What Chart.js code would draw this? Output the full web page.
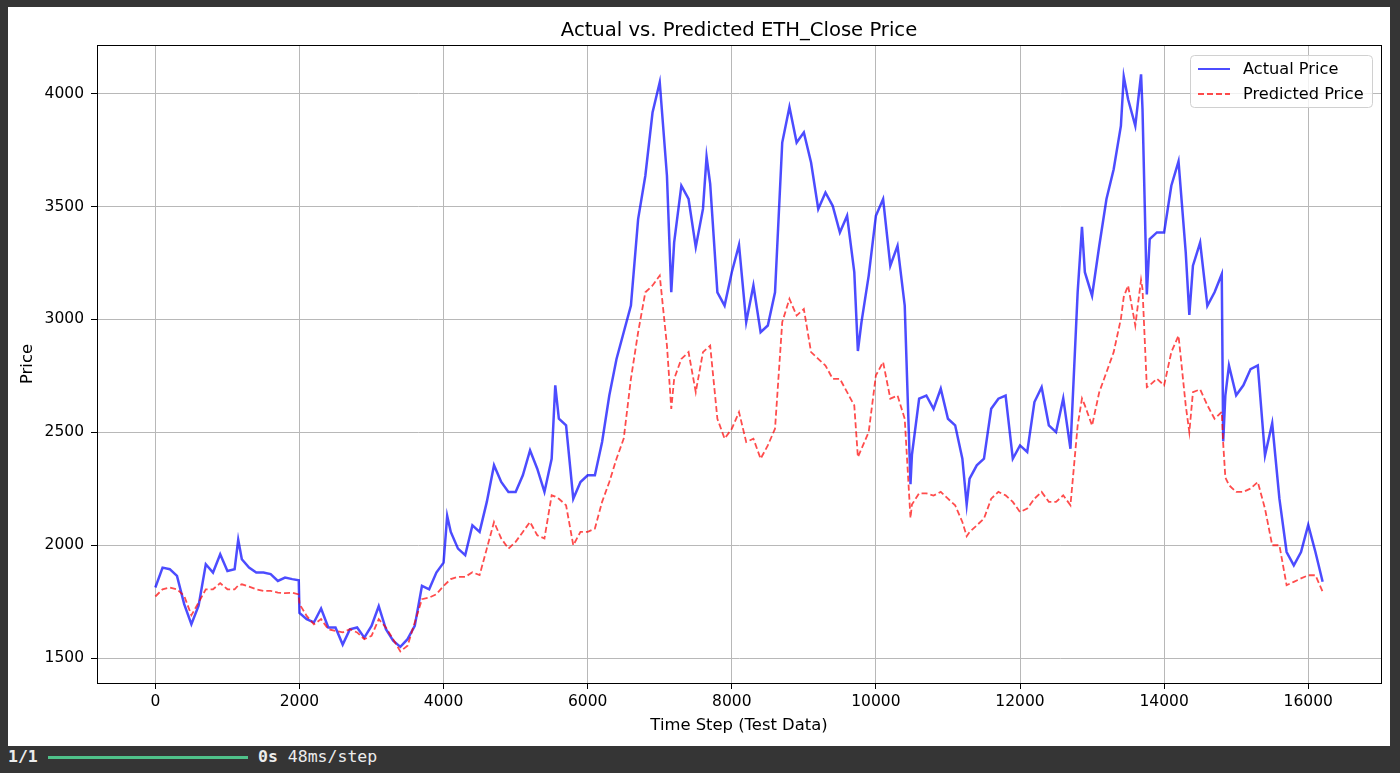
<!DOCTYPE html>
<html>
<head>
<meta charset="utf-8">
<script src="https://cdn.jsdelivr.net/npm/chart.js@4.4.1/dist/chart.umd.min.js"></script>
<style>
  body { margin: 0; width: 1400px; height: 773px; background: #353535; overflow: hidden; position: relative; }
  #panel { position: absolute; left: 8px; top: 7px; width: 1382px; height: 739px; background: #fff; }
  #bar { position: absolute; left: 8px; top: 746px; height: 24px; width: 1380px; font-family: "DejaVu Sans Mono", monospace; font-size: 16.5px; line-height: 22px; color: #ececec; white-space: pre; }
  #bar b { font-weight: bold; }
  #prog { position: absolute; left: 40px; top: 9.5px; width: 200px; height: 3px; background: #4fc28a; }
  #bar .rest { position: absolute; left: 250px; top: 0; }
</style>
</head>
<body>
<div id="panel"><canvas id="myChart" width="1382" height="739"></canvas></div>
<div id="bar"><b>1/1</b><span id="prog"></span><span class="rest"><b>0s</b> 48ms/step</span></div>
<script>
// time steps (test data)
var steps = [0,100,200,300,400,500,600,700,800,900,1000,1100,1150,1200,1300,1400,1500,1600,1700,1800,1900,1990,2000,
  2100,2200,2300,2400,2500,2600,2700,2800,2900,3000,3100,3200,3300,3400,3500,3600,3700,3800,3900,4000,4050,
  4100,4200,4300,4400,4500,4600,4700,4800,4900,5000,5100,5200,5300,5400,5500,5550,5600,5700,5800,5900,6000,
  6100,6200,6300,6400,6500,6600,6700,6800,6900,7000,7100,7160,7200,7300,7400,7500,7600,7650,7700,7800,7900,
  8000,8100,8200,8300,8400,8500,8600,8700,8800,8900,9000,9100,9200,9300,9400,9500,9600,9700,9750,9800,9900,
  10000,10100,10200,10300,10400,10480,10500,10600,10700,10800,10900,11000,11100,11200,11260,11300,11400,11500,
  11600,11700,11800,11900,12000,12100,12200,12300,12400,12500,12600,12700,12800,12860,12900,13000,13100,13200,
  13300,13400,13440,13500,13600,13680,13700,13760,13800,13900,14000,14100,14200,14300,14350,14400,14500,14600,
  14700,14800,14820,14850,14900,15000,15100,15200,15300,15400,15500,15600,15700,15800,15900,16000,16100,16200];

var actual = [1813,1901,1894,1864,1739,1650,1732,1916,1879,1960,1886,1894,2024,1938,1901,1879,1879,1872,1842,1857,1850,1845,1700,
  1673,1658,1720,1636,1636,1560,1628,1636,1591,1643,1730,1628,1577,1550,1584,1643,1820,1805,1879,1923,2130,
  2059,1985,1956,2088,2059,2192,2354,2280,2236,2236,2310,2420,2339,2236,2383,2708,2560,2531,2206,2280,2310,
  2310,2457,2663,2825,2943,3061,3444,3636,3916,4050,3636,3120,3341,3592,3533,3320,3489,3720,3600,3120,3061,
  3209,3330,2988,3150,2943,2973,3120,3783,3940,3783,3828,3695,3489,3562,3503,3385,3459,3209,2860,2988,3194,
  3459,3533,3238,3326,3061,2270,2400,2649,2663,2604,2693,2560,2531,2383,2180,2295,2354,2383,
  2604,2649,2663,2383,2442,2413,2634,2700,2531,2501,2650,2427,3120,3410,3209,3105,3326,3533,
  3665,3857,4075,3975,3857,4085,3931,3110,3356,3385,3385,3592,3700,3297,3020,3238,3340,3060,
  3120,3200,2460,2664,2796,2664,2708,2780,2796,2398,2540,2206,1970,1911,1970,2090,1970,1838];

var predicted = [1773,1805,1813,1805,1776,1690,1746,1805,1805,1832,1805,1805,1822,1827,1817,1805,1798,1798,1790,1788,1790,1782,1740,
  1687,1650,1673,1628,1621,1614,1628,1614,1584,1599,1673,1636,1584,1530,1555,1658,1761,1768,1783,1820,1835,
  1850,1860,1860,1880,1868,1985,2103,2030,1985,2015,2059,2103,2044,2030,2221,2215,2206,2177,2000,2059,2059,
  2074,2192,2280,2383,2472,2737,2943,3120,3150,3194,2884,2604,2737,2825,2855,2678,2855,2870,2884,2560,2472,
  2516,2590,2457,2472,2383,2442,2516,2988,3091,3017,3046,2855,2825,2796,2737,2737,2678,2619,2390,2427,2501,
  2752,2811,2649,2663,2560,2120,2180,2230,2230,2220,2236,2206,2177,2103,2040,2059,2088,2118,
  2206,2236,2221,2192,2147,2162,2206,2236,2192,2192,2221,2177,2530,2650,2619,2530,2678,2766,
  2855,3002,3100,3150,2973,3175,3135,2700,2708,2737,2708,2855,2928,2619,2500,2678,2690,2620,
  2560,2590,2450,2300,2266,2236,2236,2251,2280,2162,2000,2000,1823,1838,1853,1867,1867,1794];

var xTicks = [0,2000,4000,6000,8000,10000,12000,14000,16000];
var yTicks = [1500,2000,2500,3000,3500,4000];

var chartTitle = 'Actual vs. Predicted ETH_Close Price';
var FONT = "'DejaVu Sans', sans-serif";

function pts(vals) {
  return steps.map(function (t, i) { return { x: t, y: vals[i] }; });
}

// matplotlib style: title over the axes, all four spines, legend box in the corner
var framePlugin = {
  id: 'frame',
  afterDatasetsDraw: function (chart) {
    var a = chart.chartArea, c = chart.ctx;
    c.save();
    c.strokeStyle = '#000';
    c.lineWidth = 1;
    c.strokeRect(Math.round(a.left) + 0.5, Math.round(a.top) + 0.5, Math.round(a.right - a.left), Math.round(a.bottom - a.top));
    c.restore();
  },
  afterDraw: function (chart) {
    var a = chart.chartArea, c = chart.ctx;
    c.save();
    c.font = '19.6px ' + FONT;
    c.fillStyle = '#000';
    c.textAlign = 'center';
    c.textBaseline = 'middle';
    c.fillText(chartTitle, (a.left + a.right) / 2, 24);

    var w = 182, h = 52;
    var x0 = a.right - 9 - w, y0 = a.top + 10;
    c.beginPath();
    c.roundRect(x0 + 0.5, y0 + 0.5, w, h, 4);
    c.fillStyle = 'rgba(255,255,255,0.8)';
    c.fill();
    c.strokeStyle = '#d0d0d0';
    c.lineWidth = 1;
    c.stroke();
    c.font = '16.2px ' + FONT;
    c.textAlign = 'left';
    chart.data.datasets.forEach(function (ds, i) {
      var yy = y0 + 14 + i * 25;
      c.beginPath();
      c.strokeStyle = ds.borderColor;
      c.lineWidth = 2;
      c.setLineDash(ds.borderDash || []);
      c.moveTo(x0 + 8, yy);
      c.lineTo(x0 + 40, yy);
      c.stroke();
      c.setLineDash([]);
      c.fillStyle = '#000';
      c.fillText(ds.label, x0 + 53, yy + 1);
    });
    c.restore();
  }
};

var ctx = document.getElementById('myChart');

var myChart = new Chart(ctx, {
  type: 'line',
  data: {
    datasets: [{
      label: 'Actual Price',
      data: pts(actual),
      borderColor: 'rgba(0,0,255,0.7)',
      borderWidth: 2.5,
      pointRadius: 0,
      tension: 0,
      order: 1
    }, {
      label: 'Predicted Price',
      data: pts(predicted),
      borderColor: 'rgba(255,0,0,0.7)',
      borderWidth: 1.8,
      borderDash: [6, 3],
      pointRadius: 0,
      tension: 0,
      order: 0
    }]
  },
  options: {
    responsive: false,
    animation: false,
    layout: { padding: { top: 38, right: 9 } },
    plugins: {
      legend: { display: false },
      tooltip: { enabled: false },
      title: { display: false }
    },
    scales: {
      x: {
        type: 'linear',
        min: -810,
        max: 17010,
        afterBuildTicks: function (s) { s.ticks = xTicks.map(function (v) { return { value: v }; }); },
        afterFit: function (s) { s.height = 63; },
        grid: { color: '#b8b8b8', lineWidth: 1, tickLength: 6, tickColor: '#000' },
        border: { color: '#000' },
        ticks: { color: '#000', font: { family: FONT, size: 15.5 }, padding: 4, maxRotation: 0, autoSkip: false,
          callback: function (v) { return String(v); } },
        title: { display: true, text: 'Time Step (Test Data)', color: '#000', font: { family: FONT, size: 16.4 },
          padding: { top: 0, bottom: 10 } }
      },
      y: {
        min: 1390,
        max: 4215,
        afterBuildTicks: function (s) { s.ticks = yTicks.map(function (v) { return { value: v }; }); },
        afterFit: function (s) { s.width = 89; },
        grid: { color: '#b8b8b8', lineWidth: 1, tickLength: 6, tickColor: '#000' },
        border: { color: '#000' },
        ticks: { color: '#000', font: { family: FONT, size: 15.5 }, padding: 7,
          callback: function (v) { return String(v); } },
        title: { display: true, text: 'Price', color: '#000', font: { family: FONT, size: 16.4 },
          padding: { top: 10, bottom: 0 } }
      }
    }
  },
  plugins: [framePlugin]
});
</script>
</body>
</html>
